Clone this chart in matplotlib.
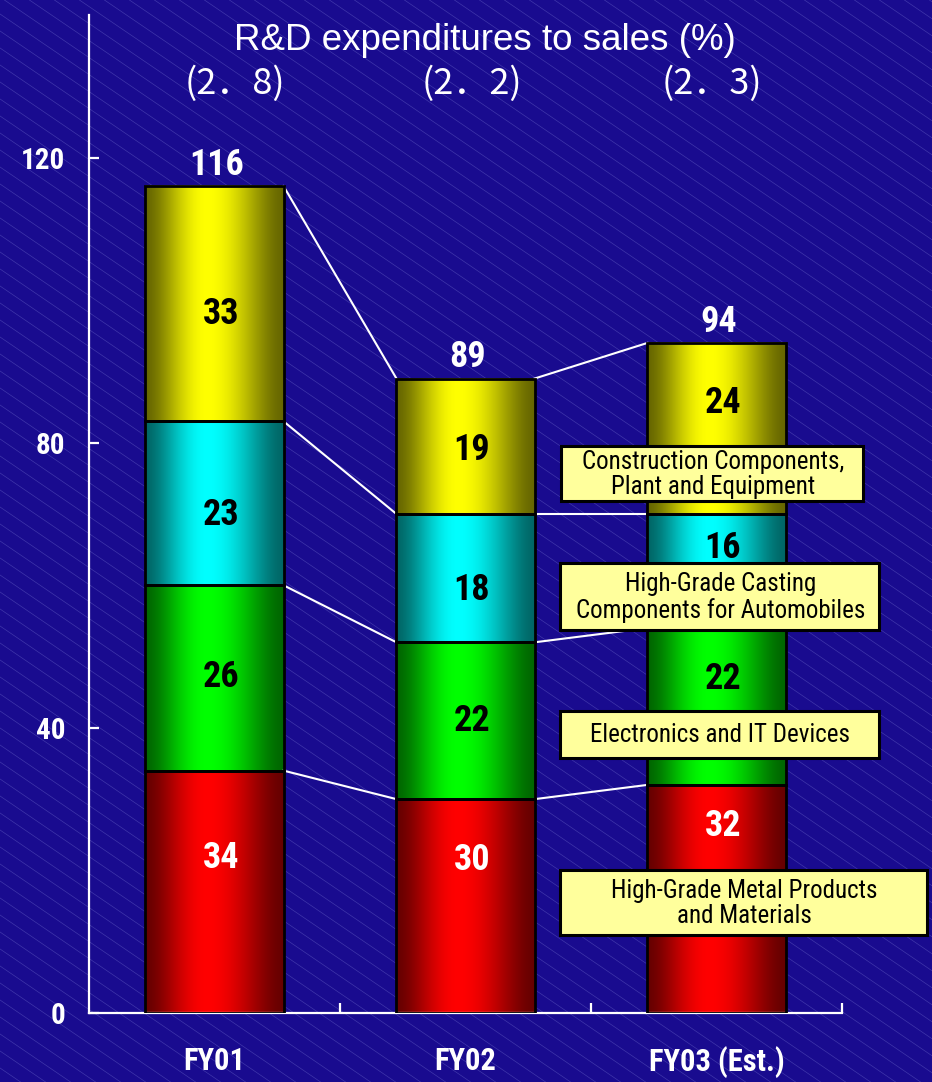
import numpy as np
import matplotlib.pyplot as plt
from matplotlib import font_manager
from matplotlib.font_manager import FontProperties
from matplotlib.patches import Rectangle

# R&D expenditures by segment (100 million yen)
years = ['FY01', 'FY02', 'FY03 (Est.)']
ratios = ['(2．8)', '(2．2)', '(2．3)']
metal = [34, 30, 32]
electronics = [26, 22, 22]
casting = [23, 18, 16]
construction = [33, 19, 24]
totals = [116, 89, 94]

segment_names = ['High-Grade Metal Products\nand Materials',
                 'Electronics and IT Devices',
                 'High-Grade Casting\nComponents for Automobiles',
                 'Construction Components,\nPlant and Equipment']


def stretch_of(f):
    s = f.stretch
    if isinstance(s, str):
        return {'ultra-condensed': 50, 'extra-condensed': 62, 'condensed': 75,
                'semi-condensed': 87}.get(s, 100)
    return s


def weight_of(f):
    w = f.weight
    if isinstance(w, str):
        return 700 if 'bold' in w.lower() else 400
    return w


def narrow_font(bold):
    # look for an Arial-like condensed face, fall back to plain Liberation Sans
    fonts = font_manager.fontManager.ttflist
    for fam in ['Liberation Sans Narrow', 'Arial Narrow', 'Roboto Condensed',
                'Noto Sans', 'Roboto', 'Open Sans', 'DejaVu Sans']:
        for f in fonts:
            narrow = 'Narrow' in fam or 'Condensed' in fam or stretch_of(f) < 100
            if f.name == fam and narrow and f.style == 'normal' \
                    and (weight_of(f) >= 600) == bold:
                return FontProperties(fname=f.fname)
    return FontProperties(family='Liberation Sans',
                          weight='bold' if bold else 'normal')


NB = narrow_font(True)
NR = narrow_font(False)

# layout
BG = '#190b8f'
bright = [(1, 0, 0), (0, 1, 0), (0, 1, 1), (1, 1, 0)]
text_col = ['white', 'black', 'black', 'black']
bar_w = 0.55
# vertical label spots inside each bar (some nudged clear of the name boxes)
label_y = [[21.8, 47.2, 69.8, 98.0],
           [21.5, 41.0, 59.4, 79.0],
           [26.2, 46.9, 65.3, 85.6]]
ratio_px = [235, 472, 712]
# name boxes in pixels: left, top, right, bottom
boxes = [(560, 870, 927, 935), (560, 711, 879, 758),
         (560, 563, 879, 630), (561, 446, 863, 501)]

W, H = 932, 1082
fig = plt.figure(figsize=(W / 100, H / 100), dpi=100)
fig.patch.set_facecolor(BG)

# striped backdrop
bg = fig.add_axes([0, 0, 1, 1], zorder=0)
bg.set_xlim(0, W)
bg.set_ylim(H, 0)
bg.axis('off')
for c in np.arange(-700, H + 20, 17):
    bg.plot([0, W], [c, c + 0.68 * W], color='#8888dd', lw=0.5, alpha=0.35)

ax = fig.add_axes([89 / W, 1 - 1013 / H, (842 - 89) / W, (1013 - 15) / H], zorder=1)
ax.patch.set_alpha(0)

x = np.arange(len(years))
stack = [metal, electronics, casting, construction]
bottom = np.zeros(len(years))
t = np.linspace(0, 1, 300)
c = 0.45
f = np.where(t < c, t / c, (1 - t) / (1 - c))
shade = 0.4 + 0.6 * np.sin(f * np.pi / 2) ** 1.6

bounds = [bottom.copy()]
for k, vals in enumerate(stack):
    bars = ax.bar(x, vals, bar_w, bottom=bottom, facecolor='none',
                  edgecolor='black', lw=2, zorder=3)
    img = np.array(bright[k])[None, None, :] * shade[None, :, None]
    for p in bars.patches:
        x0, y0 = p.get_x(), p.get_y()
        ax.imshow(img, extent=(x0, x0 + p.get_width(), y0, y0 + p.get_height()),
                  aspect='auto', zorder=2, interpolation='bilinear')
    for i, v in enumerate(vals):
        ax.text(x[i] + 0.025, label_y[i][k], str(v), ha='center', va='center',
                fontproperties=NB, fontsize=26, color=text_col[k], zorder=4)
    bottom = bottom + np.array(vals)
    bounds.append(bottom.copy())

# lines joining segment boundaries between neighbouring bars
for b in bounds[1:]:
    for i in range(len(years) - 1):
        ax.plot([x[i] + bar_w / 2, x[i + 1] - bar_w / 2], [b[i], b[i + 1]],
                color='white', lw=1.5, zorder=2.5)

for i, tot in enumerate(totals):
    ax.text(x[i] + 0.01, tot + 3, str(tot), ha='center', va='center',
            fontproperties=NB, fontsize=26, color='white', zorder=4)

ax.set_xlim(-0.5, 2.5)
ax.set_ylim(0, 140)
for s in ['top', 'right']:
    ax.spines[s].set_visible(False)
for s in ['left', 'bottom']:
    ax.spines[s].set_color('white')
    ax.spines[s].set_linewidth(1.6)
ax.set_yticks([0, 40, 80, 120])
ax.set_yticklabels(['0', '40', '80', '120'], fontproperties=NB, fontsize=21,
                   color='white')
ax.tick_params(axis='y', direction='in', length=7, width=1.6, color='white', pad=17)
ax.set_xticks([0.5, 1.5, 2.5])
ax.set_xticklabels([])
ax.set_xticks(x, minor=True)
ax.set_xticklabels(years, minor=True, fontproperties=NB, fontsize=22, color='white')
ax.tick_params(axis='x', which='major', direction='in', length=7, width=1.6, color='white')
ax.tick_params(axis='x', which='minor', length=0, pad=24)

# overlay for titles and segment name boxes
ov = fig.add_axes([0, 0, 1, 1], zorder=2)
ov.set_xlim(0, W)
ov.set_ylim(H, 0)
ov.axis('off')
ov.patch.set_alpha(0)
ov.text(485, 40, 'R&D expenditures to sales (%)', ha='center', va='center',
        fontsize=26.5, color='white', family=['Liberation Sans', 'DejaVu Sans'])
for px, r in zip(ratio_px, ratios):
    ov.text(px, 84, r, ha='center', va='center', fontsize=26, color='white',
            family=['Noto Sans CJK JP', 'DejaVu Sans'])

for (l, tp, rt, bt), name in zip(boxes, segment_names):
    ov.add_patch(Rectangle((l, tp), rt - l, bt - tp, facecolor='#ffff9c',
                           edgecolor='black', lw=2.2))
    ov.text((l + rt) / 2 + 1, (tp + bt) / 2 + 1, name, ha='center', va='center',
            fontproperties=NR, fontsize=18, color='black', linespacing=1.1)

fig.savefig('out.png', dpi=100, facecolor=BG)
